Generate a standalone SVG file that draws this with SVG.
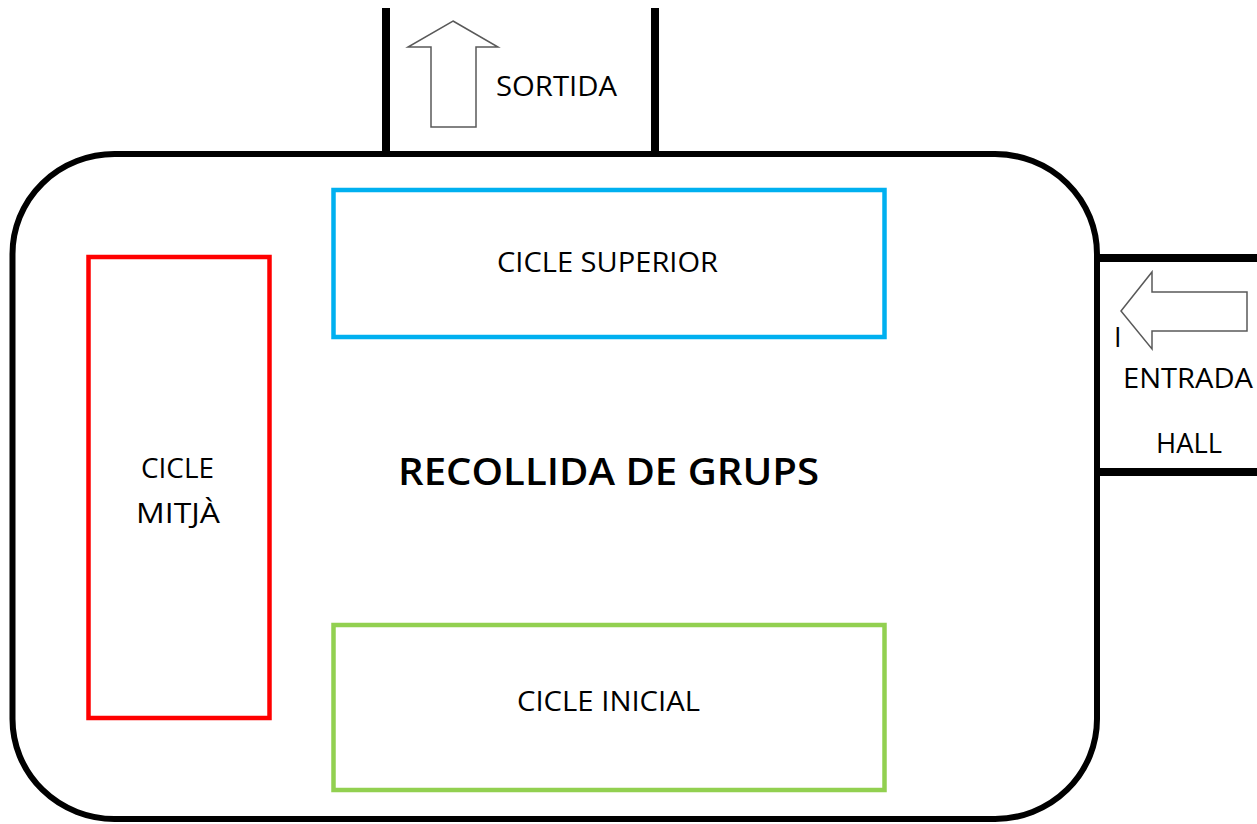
<svg xmlns="http://www.w3.org/2000/svg" width="1257" height="824" viewBox="0 0 1257 824">
<style>
  .wall{fill:none;stroke:#000;stroke-width:6}
  .door{stroke:#000;stroke-width:8;fill:none}
  .arrow{fill:#fff;stroke:#595959;stroke-width:1.5;stroke-linejoin:miter}
  .lbl{font-family:"Open Sans","Noto Sans",sans-serif;font-size:27px;fill:#000}
  .title{font-family:"Open Sans","Noto Sans",sans-serif;font-size:38px;font-weight:600;fill:#000}
  .zone{fill:none;stroke-width:4.5}
</style>
<rect width="1257" height="824" fill="#fff"/>
<g id="hall">
  <rect class="wall" x="12.5" y="154" width="1084.5" height="665" rx="102" ry="100"/>
</g>
<g id="sortida">
  <line class="door" x1="386" y1="8" x2="386" y2="154"/>
  <line class="door" x1="655" y1="8" x2="655" y2="154"/>
  <polygon class="arrow" points="453,21 498,47 476,47 476,127 431,127 431,47 408,47"/>
  <text class="lbl" x="496" y="96" textLength="121" lengthAdjust="spacingAndGlyphs">SORTIDA</text>
</g>
<g id="entrada">
  <line class="door" x1="1097" y1="258" x2="1257" y2="258"/>
  <line class="door" x1="1097" y1="472" x2="1257" y2="472"/>
  <polygon class="arrow" points="1121,311 1152,272 1152,292 1247,292 1247,331 1152,331 1152,349"/>
  <text class="lbl" x="1114" y="347">I</text>
  <text class="lbl" x="1123" y="388" textLength="130" lengthAdjust="spacingAndGlyphs">ENTRADA</text>
  <text class="lbl" x="1156" y="453" textLength="66" lengthAdjust="spacingAndGlyphs">HALL</text>
</g>
<g id="cicle-superior">
  <rect class="zone" x="333.5" y="190" width="551" height="147" stroke="#00B0F0"/>
  <text class="lbl" x="497" y="272" textLength="221" lengthAdjust="spacingAndGlyphs">CICLE SUPERIOR</text>
</g>
<g id="cicle-mitja">
  <rect class="zone" x="88.5" y="257" width="181" height="461" stroke="#FF0000"/>
  <text class="lbl" x="141" y="478" textLength="73" lengthAdjust="spacingAndGlyphs">CICLE</text>
  <text class="lbl" x="136" y="523" textLength="84" lengthAdjust="spacingAndGlyphs">MITJÀ</text>
</g>
<g id="cicle-inicial">
  <rect class="zone" x="333.5" y="625" width="551" height="165" stroke="#92D050"/>
  <text class="lbl" x="517" y="711" textLength="183" lengthAdjust="spacingAndGlyphs">CICLE INICIAL</text>
</g>
<g id="titol">
  <text class="title" x="398" y="485" textLength="421" lengthAdjust="spacingAndGlyphs">RECOLLIDA DE GRUPS</text>
</g>
<g id="connectors"></g>
</svg>
